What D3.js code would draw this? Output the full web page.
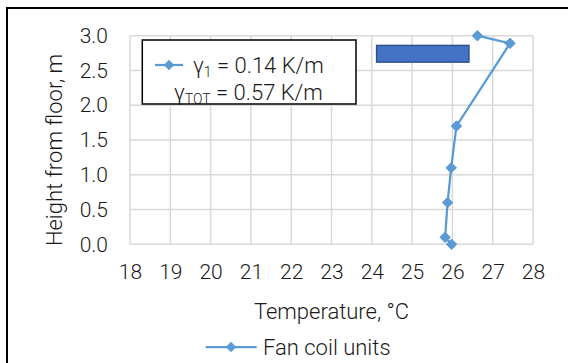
<!DOCTYPE html>
<html>
<head>
<meta charset="utf-8">
<script src="https://cdn.jsdelivr.net/npm/d3@7"></script>
<style>
  body { margin: 0; background: #fff; }
  svg { font-family: Roboto, 'Liberation Sans', sans-serif; font-weight: 300; }
</style>
</head>
<body>
<svg id="chart"></svg>
<script>
// data
const temperature = [26.62, 27.43, 26.1, 25.97, 25.88, 25.82, 25.98];
const height = [3.0, 2.89, 1.7, 1.1, 0.6, 0.1, 0.0];
const xTicks = [18, 19, 20, 21, 22, 23, 24, 25, 26, 27, 28];
const yTicks = [0, 0.5, 1.0, 1.5, 2.0, 2.5, 3.0];
const seriesName = 'Fan coil units';
const gammaLines = [['γ', '1', ' = 0.14 K/m'], ['γ', 'TOT', ' = 0.57 K/m']];
const boxX = [24.12, 26.41];
const boxY = [2.62, 2.86];

const W = 568, H = 363;
const margin = {top: 35.7, right: 35, bottom: 118.7, left: 130};
const lineColor = '#5B9BD5';

const svg = d3.select('#chart').attr('width', W).attr('height', H);
svg.append('rect').attr('width', W).attr('height', H).attr('fill', '#fff');

// outer frame (only top and left edges visible)
svg.append('path')
    .attr('d', `M7,${H} V8 H${W}`)
    .attr('fill', 'none')
    .attr('stroke', '#000')
    .attr('stroke-width', 2);

const x = d3.scaleLinear().domain([18, 28]).range([margin.left, W - margin.right]);
const y = d3.scaleLinear().domain([0, 3]).range([H - margin.bottom, margin.top]);

// gridlines
const grid = svg.append('g').attr('stroke', '#d9d9d9').attr('stroke-width', 1.5);
grid.selectAll('.vx').data(xTicks).join('line')
    .attr('x1', d => x(d)).attr('x2', d => x(d))
    .attr('y1', y(0)).attr('y2', y(3));
grid.selectAll('.hy').data(yTicks).join('line')
    .attr('x1', x(18)).attr('x2', x(28))
    .attr('y1', d => y(d)).attr('y2', d => y(d));

// axes (labels only)
const xAxis = d3.axisBottom(x).tickValues(xTicks).tickSize(0).tickPadding(20).tickFormat(d3.format('d'));
const yAxis = d3.axisLeft(y).tickValues(yTicks).tickSize(0).tickPadding(22).tickFormat(d3.format('.1f'));

const xAxisG = svg.append('g').attr('transform', `translate(0,${y(0)})`).call(xAxis);
const yAxisG = svg.append('g').attr('transform', `translate(${x(18)},0)`).call(yAxis);
[xAxisG, yAxisG].forEach(g => {
  g.attr('font-family', null).attr('font-size', null);
  g.select('.domain').remove();
  g.selectAll('text')
      .style('font-size', '21px')
      .attr('fill', '#1a1a1a');
});

// axis titles
svg.append('text')
    .attr('x', x(23)).attr('y', 319)
    .attr('text-anchor', 'middle')
    .style('font-size', '22px')
    .attr('fill', '#1a1a1a')
    .text('Temperature, °C');

svg.append('text')
    .attr('transform', `translate(62,${(y(0) + y(3)) / 2 + 10}) rotate(-90)`)
    .attr('text-anchor', 'middle')
    .style('font-size', '22px')
    .attr('fill', '#1a1a1a')
    .text('Height from floor, m');

// blue annotation shape
svg.append('rect')
    .attr('x', x(boxX[0])).attr('y', y(boxY[1]))
    .attr('width', x(boxX[1]) - x(boxX[0]))
    .attr('height', y(boxY[0]) - y(boxY[1]))
    .attr('fill', '#4472C4')
    .attr('stroke', '#2F528F')
    .attr('stroke-width', 1.5);

// series
const pts = temperature.map((t, i) => ({t, h: height[i]}));
const diamond = d3.symbol().type(d3.symbolDiamond2).size(70);

svg.append('path')
    .datum(pts)
    .attr('d', d3.line().x(d => x(d.t)).y(d => y(d.h)))
    .attr('fill', 'none')
    .attr('stroke', lineColor)
    .attr('stroke-width', 2.25);

svg.selectAll('.marker').data(pts).join('path')
    .attr('transform', d => `translate(${x(d.t)},${y(d.h)})`)
    .attr('d', diamond)
    .attr('fill', lineColor)
    .attr('stroke', lineColor);

// gamma legend box
const gBox = svg.append('g');
gBox.append('rect')
    .attr('x', 142.3).attr('y', 40)
    .attr('width', 213.7).attr('height', 64)
    .attr('fill', '#fff')
    .attr('stroke', '#000')
    .attr('stroke-width', 1.5);
gBox.append('line')
    .attr('x1', 155).attr('x2', 183).attr('y1', 65).attr('y2', 65)
    .attr('stroke', lineColor).attr('stroke-width', 2.25);
gBox.append('path')
    .attr('transform', 'translate(169,65)')
    .attr('d', diamond)
    .attr('fill', lineColor);

gammaLines.forEach((ln, i) => {
  const t = gBox.append('text')
      .attr('x', i === 0 ? 193 : 174)
      .attr('y', i === 0 ? 73 : 100)
      .style('font-size', '22px')
      .attr('fill', '#1a1a1a');
  t.append('tspan').text(ln[0]);
  t.append('tspan').attr('dy', 4).style('font-size', '14px').text(ln[1]);
  t.append('tspan').attr('dy', -4).text(ln[2]);
});

// bottom legend
const leg = svg.append('g');
leg.append('line')
    .attr('x1', 205.7).attr('x2', 256.7).attr('y1', 347).attr('y2', 347)
    .attr('stroke', lineColor).attr('stroke-width', 2.25);
leg.append('path')
    .attr('transform', 'translate(231,347)')
    .attr('d', diamond)
    .attr('fill', lineColor);
leg.append('text')
    .attr('x', 263).attr('y', 354.5)
    .style('font-size', '22px')
    .attr('fill', '#1a1a1a')
    .text(seriesName);
</script>
</body>
</html>
